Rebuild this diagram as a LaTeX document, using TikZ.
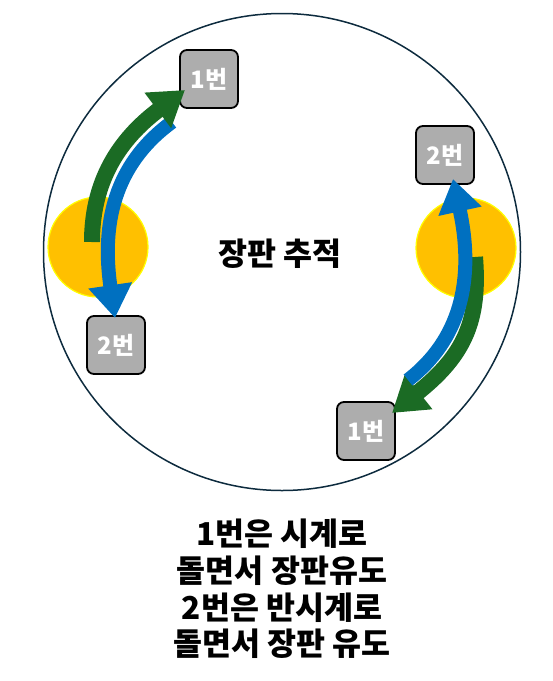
\documentclass[tikz,border=0pt]{standalone}
\usepackage{fontspec}
\newfontfamily\kr{Noto Sans CJK KR}
\usetikzlibrary{arrows.meta}
\definecolor{rim}{HTML}{0D2B3E}
\definecolor{sun}{HTML}{FFC000}
\definecolor{sunrim}{HTML}{FFFF00}
\definecolor{grn}{HTML}{1B6B24}
\definecolor{blu}{HTML}{0070C0}
\definecolor{boxgray}{HTML}{ADADAD}
\tikzset{
  playerbox/.style={draw=black, line width=1.8pt, fill=boxgray, rounded corners=7pt,
    minimum width=58pt, minimum height=58pt, inner sep=0pt,
    font=\kr\bfseries\fontsize{24}{28}\selectfont, text=white},
  spot/.style={circle, fill=sun, draw=sunrim, line width=1.2pt, minimum size=100pt, inner sep=0pt},
  garrow/.style={draw=grn, line width=16pt, -{Triangle[width=42pt,length=34pt]}},
  barrow/.style={draw=blu, line width=14pt, -{Triangle[width=42pt,length=33pt]}},
}
\begin{document}
\begin{tikzpicture}[x=1pt,y=-1pt]
\useasboundingbox (0,0) rectangle (553,681);
% outer track
\node[circle, draw=rim, line width=1.5pt, minimum size=477pt, inner sep=0pt] (track) at (282,252) {};
% spots
\node[spot] (sl) at (98,247) {};
\node[spot] (sr) at (466,248) {};
% boxes
\node[playerbox] (a1) at (209,79) {1번};
\node[playerbox] (b2) at (116,345) {2번};
\node[playerbox] (c2) at (445,155) {2번};
\node[playerbox] (d1) at (366,431) {1번};
% arrow ends
\coordinate (gl0) at (92,242);
\coordinate (gl1) at (185,90);
\coordinate (bl0) at (172,122);
\coordinate (bl1) at (115,318);
\coordinate (br0) at (408,380);
\coordinate (br1) at (453,179);
\coordinate (gr0) at (475,257);
\coordinate (gr1) at (392,413);
% arrows
\draw[barrow] (bl0) .. controls (120,160) and (100,215) .. (bl1);
\draw[garrow] (gl0) .. controls (92,175) and (125,135) .. (gl1);
\draw[garrow] (gr0) .. controls (480,320) and (465,355) .. (gr1);
\draw[barrow] (br0) .. controls (460,340) and (475,280) .. (br1);
% labels
\node[font=\kr\bfseries\fontsize{31.5}{36}\selectfont] (title) at (280,254) {장판 추적};
\node[font=\kr\bfseries\fontsize{31.5}{36.7}\selectfont, align=center] (note) at (282,589)
  {1번은 시계로\\돌면서 장판유도\\2번은 반시계로\\돌면서 장판 유도};
\end{tikzpicture}
\end{document}
